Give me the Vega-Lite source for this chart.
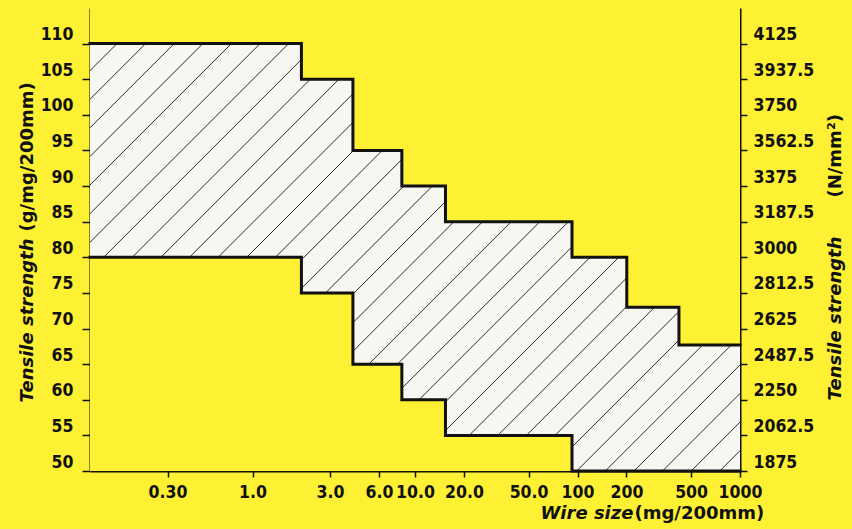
{
  "$schema": "https://vega.github.io/schema/vega-lite/v6.json",
  "width": 650,
  "height": 463,
  "autosize": {"type": "none"},
  "padding": {"left": 90, "top": 8, "right": 112, "bottom": 58},
  "background": "#fef033",
  "datasets": {
    "bounds": [
      {"x": 0.1, "upper": 110, "lower": 80},
      {"x": 2.0, "upper": 105, "lower": 75},
      {"x": 4.15, "upper": 95, "lower": 65},
      {"x": 8.3, "upper": 90, "lower": 60},
      {"x": 15.4, "upper": 85, "lower": 55},
      {"x": 92.5, "upper": 80, "lower": 50},
      {"x": 201, "upper": 73, "lower": 50},
      {"x": 421, "upper": 67.7, "lower": 50},
      {"x": 1000, "upper": 67.7, "lower": 50}
    ],
    "hatch": [
      {"xb": 0.0001527, "xt": 0.1079},
      {"xb": 0.0002291, "xt": 0.1619},
      {"xb": 0.0003436, "xt": 0.2428},
      {"xb": 0.0005154, "xt": 0.3642},
      {"xb": 0.000773, "xt": 0.5462},
      {"xb": 0.00116, "xt": 0.8197},
      {"xb": 0.001739, "xt": 1.2288},
      {"xb": 0.002609, "xt": 1.8435},
      {"xb": 0.003914, "xt": 2.7656},
      {"xb": 0.00587, "xt": 4.148},
      {"xb": 0.008805, "xt": 6.222},
      {"xb": 0.01321, "xt": 9.334},
      {"xb": 0.01981, "xt": 14.0},
      {"xb": 0.02972, "xt": 21.0},
      {"xb": 0.04458, "xt": 31.5},
      {"xb": 0.06687, "xt": 47.25},
      {"xb": 0.1003, "xt": 70.87},
      {"xb": 0.1505, "xt": 106.3},
      {"xb": 0.2257, "xt": 159.5},
      {"xb": 0.3385, "xt": 239.2},
      {"xb": 0.5078, "xt": 358.8},
      {"xb": 0.7617, "xt": 538.2},
      {"xb": 1.1425, "xt": 807.3},
      {"xb": 1.714, "xt": 1211},
      {"xb": 2.571, "xt": 1817},
      {"xb": 3.856, "xt": 2725},
      {"xb": 5.784, "xt": 4087},
      {"xb": 8.676, "xt": 6130},
      {"xb": 13.01, "xt": 9193},
      {"xb": 19.52, "xt": 13793},
      {"xb": 29.28, "xt": 20689},
      {"xb": 43.92, "xt": 31034},
      {"xb": 65.88, "xt": 46551},
      {"xb": 98.82, "xt": 69826},
      {"xb": 148.2, "xt": 104722},
      {"xb": 222.4, "xt": 157148},
      {"xb": 333.5, "xt": 235650},
      {"xb": 500.3, "xt": 353512},
      {"xb": 750.4, "xt": 530232}
    ]
  },
  "resolve": {"axis": {"x": "independent", "y": "independent"}},
  "layer": [
    {
      "data": {"name": "bounds"},
      "mark": {"type": "area", "interpolate": "step-after", "fill": "#f7f7f2"},
      "encoding": {
        "x": {
          "field": "x", "type": "quantitative",
          "scale": {"type": "log", "domain": [0.1, 1000], "nice": false},
          "axis": {
            "orient": "bottom",
            "values": [0.3, 1, 3, 6, 10, 20, 50, 100, 200, 500, 1000],
            "labelExpr": "datum.value < 1 ? format(datum.value, '.2f') : datum.value < 100 ? format(datum.value, '.1f') : format(datum.value, 'd')",
            "tickSize": 6,
            "labelPadding": 6,
            "labelFlush": false,
            "labelOverlap": false,
            "labelBound": false,
            "title": "Wire size",
            "titleFontStyle": "italic",
            "titleAngle": 0,
            "titleAlign": "left",
            "titleBaseline": "alphabetic",
            "titleX": 450,
            "titleY": 47
          }
        },
        "y": {
          "field": "lower", "type": "quantitative",
          "scale": {"domain": [50, 115], "nice": false, "zero": false},
          "axis": {
            "orient": "left",
            "values": [50, 55, 60, 65, 70, 75, 80, 85, 90, 95, 100, 105, 110],
            "tickSize": 8,
            "labelPadding": 9,
            "labelOffset": -9,
            "labelOverlap": false,
            "labelBound": false,
            "title": "Tensile strength",
            "titleFontStyle": "italic",
            "titleAngle": 270,
            "titleAlign": "left",
            "titleBaseline": "alphabetic",
            "titleX": -58,
            "titleY": 394
          }
        },
        "y2": {"field": "upper"}
      }
    },
    {
      "data": {"name": "hatch"},
      "mark": {"type": "rule", "color": "#2a2a2a", "strokeWidth": 1, "clip": true},
      "encoding": {
        "x": {"field": "xb", "type": "quantitative", "scale": {"type": "log", "domain": [0.1, 1000], "nice": false}, "axis": null},
        "x2": {"field": "xt"},
        "y": {"datum": 50, "type": "quantitative", "axis": null},
        "y2": {"datum": 115}
      }
    },
    {
      "data": {"name": "bounds"},
      "mark": {"type": "area", "interpolate": "step-after", "fill": "#fef033"},
      "encoding": {
        "x": {"field": "x", "type": "quantitative", "scale": {"type": "log", "domain": [0.1, 1000], "nice": false}, "axis": null},
        "y": {"field": "upper", "type": "quantitative", "axis": null},
        "y2": {"datum": 115}
      }
    },
    {
      "data": {"name": "bounds"},
      "mark": {"type": "area", "interpolate": "step-after", "fill": "#fef033"},
      "encoding": {
        "x": {"field": "x", "type": "quantitative", "scale": {"type": "log", "domain": [0.1, 1000], "nice": false}, "axis": null},
        "y": {"field": "lower", "type": "quantitative", "axis": null},
        "y2": {"datum": 50}
      }
    },
    {
      "data": {"name": "bounds"},
      "mark": {"type": "line", "interpolate": "step-after", "color": "#111", "strokeWidth": 3, "strokeJoin": "miter", "strokeCap": "square"},
      "encoding": {
        "x": {"field": "x", "type": "quantitative", "scale": {"type": "log", "domain": [0.1, 1000], "nice": false}, "axis": null},
        "y": {"field": "upper", "type": "quantitative", "axis": null}
      }
    },
    {
      "data": {"name": "bounds"},
      "mark": {"type": "line", "interpolate": "step-after", "color": "#111", "strokeWidth": 3, "strokeJoin": "miter", "strokeCap": "square"},
      "encoding": {
        "x": {"field": "x", "type": "quantitative", "scale": {"type": "log", "domain": [0.1, 1000], "nice": false}, "axis": null},
        "y": {"field": "lower", "type": "quantitative", "axis": null}
      }
    },
    {
      "data": {"name": "bounds"},
      "mark": {"type": "point", "opacity": 0},
      "encoding": {
        "x": {
          "field": "x", "type": "quantitative",
          "scale": {"type": "log", "domain": [0.1, 1000], "nice": false},
          "axis": {
            "orient": "bottom", "domain": false, "ticks": false, "labels": false,
            "title": "(mg/200mm)", "titleAngle": 0, "titleAlign": "left",
            "titleBaseline": "alphabetic", "titleX": 544, "titleY": 47
          }
        },
        "y": {
          "field": "upper", "type": "quantitative",
          "axis": {
            "orient": "left", "domain": false, "ticks": false, "labels": false,
            "title": "(g/mg/200mm)", "titleAngle": 270, "titleAlign": "left",
            "titleBaseline": "alphabetic", "titleX": -58, "titleY": 223
          }
        }
      }
    },
    {
      "data": {"name": "bounds"},
      "mark": {"type": "point", "opacity": 0},
      "encoding": {
        "x": {"field": "x", "type": "quantitative", "scale": {"type": "log", "domain": [0.1, 1000], "nice": false}, "axis": null},
        "y": {
          "field": "upper", "type": "quantitative",
          "axis": {
            "orient": "right",
            "values": [50, 55, 60, 65, 70, 75, 80, 85, 90, 95, 100, 105, 110],
            "labelExpr": "datum.value == 65 ? '2487.5' : '' + (datum.value * 37.5)",
            "tickSize": 7,
            "labelPadding": 6,
            "labelOffset": -9,
            "labelOverlap": false,
            "labelBound": false,
            "title": "Tensile strength",
            "titleFontStyle": "italic",
            "titleAngle": 270,
            "titleAlign": "left",
            "titleBaseline": "alphabetic",
            "titleX": 100,
            "titleY": 392
          }
        }
      }
    },
    {
      "data": {"name": "bounds"},
      "mark": {"type": "point", "opacity": 0},
      "encoding": {
        "x": {"field": "x", "type": "quantitative", "scale": {"type": "log", "domain": [0.1, 1000], "nice": false}, "axis": null},
        "y": {
          "field": "lower", "type": "quantitative",
          "axis": {
            "orient": "right", "domain": false, "ticks": false, "labels": false,
            "title": "(N/mm²)", "titleAngle": 270, "titleAlign": "left",
            "titleBaseline": "alphabetic", "titleX": 100, "titleY": 189
          }
        }
      }
    }
  ],
  "config": {
    "view": {"stroke": null},
    "axis": {
      "grid": false,
      "domainColor": "#111",
      "domainWidth": 2,
      "tickColor": "#111",
      "tickWidth": 1.5,
      "labelColor": "#111",
      "titleColor": "#111",
      "labelFont": "DejaVu Sans Condensed, DejaVu Sans",
      "titleFont": "DejaVu Sans",
      "labelFontWeight": "bold",
      "titleFontWeight": "bold",
      "labelFontSize": 17.5,
      "titleFontSize": 18,
      "zindex": 1
    }
  }
}
